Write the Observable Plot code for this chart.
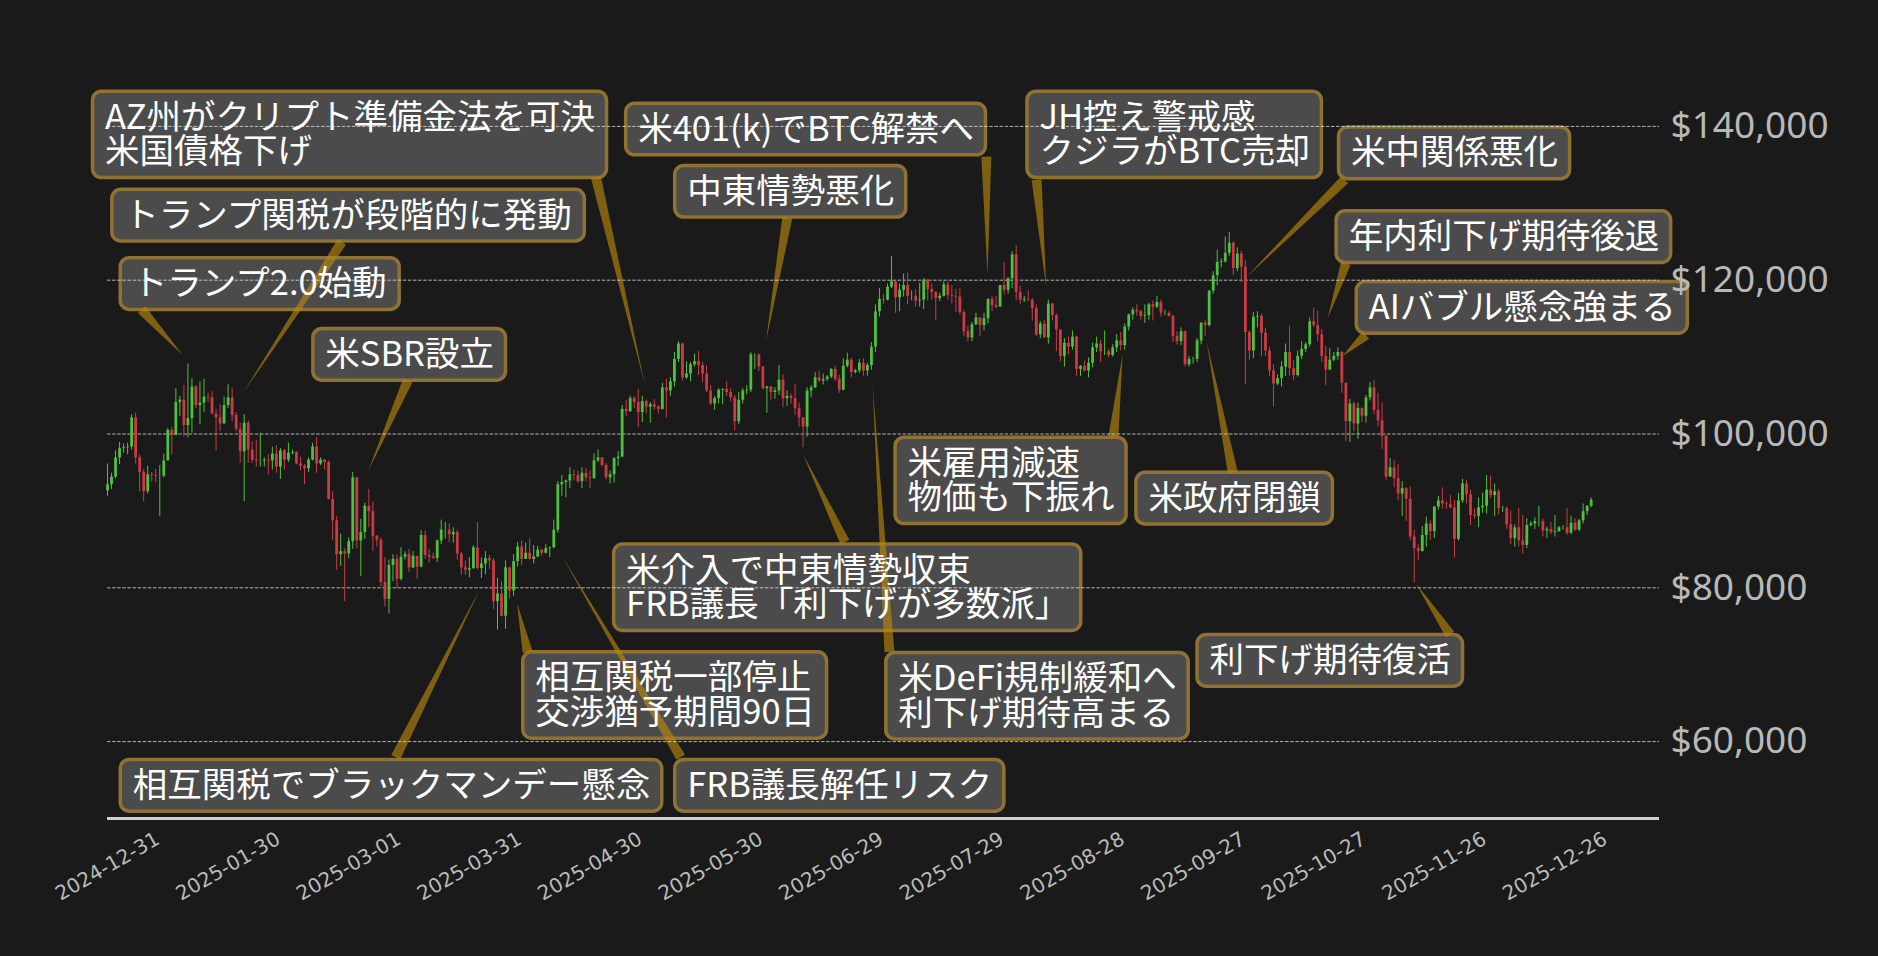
<!DOCTYPE html>
<html><head><meta charset="utf-8">
<script src="https://cdn.jsdelivr.net/npm/d3@7"></script>
<script src="https://cdn.jsdelivr.net/npm/@observablehq/plot@0.6"></script>
<style>
html,body{margin:0;padding:0;background:#1a1a1a;}
#chart{width:1878px;height:956px;}
</style></head><body><div id="chart"></div>
<script>
// ---------------- DATA (BTC/USD daily, values in USD thousands) ----------------
const startDate = "2024-12-31";
const firstOpen = 92.6;
const closeK = [
93.4,
94.4,96.9,98.1,98.2,98.3,102.1,96.9,95.0,92.5,94.7,94.6,94.5,94.5,96.5,100.5,99.8,104.1,104.4,101.1,102.0,106.1,103.7,104.0,104.8,104.7,102.6,102.1,101.3,103.7,104.7,102.4,
100.6,97.7,101.4,97.9,96.6,96.5,96.5,96.6,96.5,97.4,95.7,97.8,96.6,97.5,97.6,96.1,95.8,95.5,96.6,98.3,96.1,96.6,96.3,91.5,88.7,84.3,84.7,84.4,
86.0,94.3,86.1,87.2,90.6,89.9,86.7,86.2,80.7,78.5,82.9,83.7,81.1,84.0,84.3,82.6,84.1,82.7,86.8,84.2,84.0,83.8,86.1,87.5,87.5,86.9,87.2,84.4,82.6,82.3,82.5,
85.2,82.5,83.1,83.8,83.5,78.2,79.2,76.3,82.6,79.6,83.4,85.3,83.7,84.5,83.7,84.0,84.9,84.5,85.1,85.2,87.5,93.4,93.7,93.9,94.7,94.6,93.8,94.9,94.3,94.2,
96.5,96.9,95.9,94.3,94.7,96.8,97.0,103.2,102.9,104.6,104.1,102.8,104.2,103.5,103.8,103.5,103.2,106.0,105.6,106.8,109.7,111.7,107.3,107.8,109.0,109.4,108.9,107.8,105.6,103.9,104.6,
105.7,105.8,105.4,104.7,101.6,104.4,105.6,105.7,110.3,110.3,108.7,105.9,106.1,105.4,105.6,107.0,104.6,104.9,104.6,103.3,102.1,100.9,105.6,106.0,107.3,106.9,107.1,107.4,108.4,107.1,
105.7,108.8,109.6,108.0,108.2,109.2,108.2,108.9,111.3,115.9,117.5,117.4,119.1,119.8,117.7,118.7,119.3,117.9,117.9,117.3,117.4,120.0,118.8,118.4,117.6,117.9,119.4,118.0,117.9,117.8,115.8,
113.3,112.5,114.2,115.1,114.1,115.0,117.5,116.7,116.5,119.3,118.7,120.2,123.3,118.4,117.4,117.5,117.4,116.3,112.9,114.3,112.5,116.9,115.4,113.5,110.1,111.8,111.3,112.6,108.4,108.8,108.2,
109.2,111.2,111.7,110.7,110.7,110.2,111.2,112.1,111.5,113.9,115.5,116.1,115.9,115.3,115.4,116.8,116.5,117.1,115.7,115.7,115.3,112.7,112.0,113.3,109.0,109.7,109.7,112.1,114.4,114.1,
118.6,120.6,122.3,122.4,123.5,124.8,121.5,123.4,121.7,113.2,110.8,115.2,115.3,113.1,110.8,108.2,106.5,107.2,108.7,110.6,108.5,107.6,110.1,111.0,111.6,114.6,114.1,112.9,110.1,108.3,109.6,
110.1,110.6,106.6,101.6,103.9,101.3,103.3,102.3,104.7,106.0,103.1,101.7,99.7,94.4,95.6,94.2,92.2,92.9,91.5,86.6,85.1,84.7,86.8,88.3,87.3,90.5,91.3,90.9,90.8,90.4,
86.3,91.3,93.5,92.1,89.4,89.3,90.4,90.6,92.7,92.0,92.5,90.3,90.3,88.2,86.4,87.8,86.1,85.5,88.1,88.3,88.6,88.6,87.4,87.6,87.2,87.3,87.8,87.8,87.1,88.4,87.5,
88.7,89.9,90.6,91.4
];
const highK = [
96.1,
94.9,97.8,98.9,98.7,98.8,102.5,102.7,97.3,95.4,95.8,95.0,95.4,95.9,97.4,100.7,100.9,105.9,104.9,106.3,109.1,107.2,106.3,106.8,107.1,105.3,105.5,103.2,103.8,104.8,106.4,106.0,
102.8,101.4,102.5,101.7,99.0,99.2,100.1,96.9,97.3,98.3,98.5,98.1,98.0,98.8,97.9,97.7,97.0,96.0,96.9,98.8,99.5,96.9,96.7,96.5,92.5,89.3,87.0,85.1,
86.5,95.0,94.4,88.9,91.0,92.8,91.2,86.8,86.5,83.9,83.6,84.3,84.3,85.2,84.7,85.0,84.7,84.0,87.4,87.4,85.0,84.5,86.2,88.8,88.5,88.3,87.8,87.5,84.6,83.5,83.9,
85.5,88.5,83.9,84.7,84.2,83.8,81.2,80.8,83.5,82.7,84.3,85.9,86.1,85.8,86.4,85.5,85.4,85.0,85.6,85.3,88.8,93.8,94.6,94.0,95.6,95.3,95.2,95.6,95.5,95.2,
97.4,97.9,96.9,96.2,95.2,96.9,97.7,103.7,104.3,104.9,104.9,105.8,104.9,104.4,104.1,104.5,103.7,106.6,107.1,107.3,110.6,112.0,111.8,109.4,109.3,110.4,110.7,109.3,108.9,106.3,104.9,
105.9,105.9,106.8,105.9,105.0,105.4,105.9,106.3,110.6,110.4,110.4,108.8,106.2,106.2,106.0,108.9,107.7,105.6,105.2,106.5,104.0,102.0,106.0,106.3,108.0,108.2,107.8,107.6,108.5,108.8,
107.6,109.8,110.5,109.8,108.4,109.7,109.8,109.2,111.9,116.8,118.9,118.1,119.5,123.1,119.9,119.5,120.8,120.9,118.6,118.8,119.6,120.2,120.1,119.5,118.5,118.3,119.8,119.8,119.3,118.8,118.9,
116.1,114.0,114.5,115.7,115.1,115.7,117.6,117.9,117.9,119.3,122.3,120.3,123.7,124.5,119.2,117.9,118.6,117.6,116.8,114.6,114.8,117.4,117.0,115.6,113.6,112.4,112.6,113.4,112.7,108.9,109.5,
109.9,111.8,112.6,112.2,113.4,111.0,111.6,112.9,113.2,114.3,115.6,116.4,116.8,116.1,116.8,117.0,117.3,117.9,117.4,116.1,115.9,115.4,113.3,113.8,113.4,110.1,110.0,112.4,114.5,114.8,
118.6,121.1,123.9,122.8,125.6,126.2,125.0,124.2,123.8,122.5,113.4,115.8,115.9,115.6,113.7,111.3,109.0,107.7,109.4,111.7,114.0,109.5,110.8,112.0,111.9,115.1,116.4,116.0,113.6,111.4,111.1,
110.6,111.2,110.8,106.6,104.5,104.2,104.0,103.4,105.0,106.7,107.0,105.3,104.0,99.8,96.8,96.6,96.0,93.8,93.0,93.1,87.5,85.6,88.0,89.2,88.7,90.6,91.9,93.0,91.2,92.0,
91.4,92.3,94.1,94.0,92.7,90.3,91.7,92.3,94.6,94.5,93.5,92.8,90.6,90.5,90.0,88.2,90.3,89.4,89.0,88.6,89.1,90.6,88.9,87.9,88.5,89.4,88.0,88.1,90.3,89.3,89.0,
88.9,90.9,90.7,91.7
];
const lowK = [
91.9,
92.8,94.2,96.0,97.5,97.3,97.9,96.1,92.5,91.2,92.2,93.8,93.7,89.3,94.3,96.5,97.3,99.9,102.3,99.6,99.5,100.1,103.3,101.2,102.8,104.1,102.5,97.8,100.3,101.3,103.3,101.6,
100.3,96.2,91.2,96.2,96.2,95.7,95.7,95.7,94.7,95.3,94.9,94.1,95.3,96.3,97.3,96.0,95.2,93.4,95.0,96.5,94.9,95.9,95.3,91.4,86.1,82.3,82.8,78.2,
83.8,85.0,85.1,81.5,86.3,87.8,84.7,85.3,80.1,77.5,76.6,80.8,79.9,80.9,83.6,82.0,82.5,81.1,82.6,83.7,83.2,83.7,83.3,85.6,86.3,85.9,85.8,83.6,81.6,81.6,81.3,
82.4,82.3,81.2,81.7,82.4,77.2,74.5,76.2,74.6,78.5,78.9,82.7,82.9,83.7,83.6,83.1,83.9,84.1,84.4,83.9,85.1,87.1,91.9,91.7,92.9,93.9,93.6,92.9,93.8,92.9,
94.1,96.3,95.7,94.0,93.5,93.6,95.8,96.9,102.3,102.8,103.3,100.8,101.5,102.6,101.4,103.1,102.6,103.1,102.1,104.9,106.1,109.3,106.9,107.1,106.8,108.7,107.6,106.7,105.4,103.7,103.1,
103.9,103.8,104.9,104.2,100.4,101.2,103.9,105.1,105.4,108.4,108.1,105.7,102.7,104.4,104.5,105.0,103.4,103.6,103.9,102.4,100.9,98.2,99.6,104.7,105.9,106.7,106.4,106.8,107.2,106.8,
105.3,105.6,108.6,107.3,107.8,107.9,107.5,107.5,108.3,110.6,115.2,116.9,117.3,118.9,115.7,115.9,117.8,116.8,117.3,116.5,116.5,116.2,117.3,117.4,114.7,117.2,117.8,117.4,116.9,115.8,115.5,
112.7,112.0,112.0,114.1,112.7,113.4,114.3,115.9,116.3,116.5,118.1,118.2,118.9,117.3,116.8,117.1,117.2,114.7,112.7,112.4,112.4,111.7,114.7,110.7,109.4,108.7,110.3,110.9,107.5,107.5,108.1,
107.3,108.6,110.6,109.3,110.2,109.9,110.0,110.6,110.8,110.9,113.4,114.8,115.3,114.8,114.4,114.8,114.7,116.3,115.2,115.4,115.2,111.9,111.6,111.5,108.7,108.7,109.1,109.3,111.6,112.7,
113.9,118.2,119.3,121.6,122.2,123.1,120.6,121.1,119.7,106.4,109.6,109.8,113.8,110.0,110.1,107.5,103.5,106.3,106.1,107.5,107.5,106.9,107.4,109.7,110.6,111.3,113.9,112.0,109.3,106.3,108.7,
109.4,109.6,105.3,99.0,98.9,100.3,99.3,101.5,101.4,104.3,102.5,100.9,98.0,94.0,94.6,93.0,91.3,89.3,88.6,86.1,80.6,83.5,84.7,85.3,86.2,86.4,90.1,90.2,90.2,90.3,
83.9,86.1,91.0,90.9,88.1,88.9,87.8,89.7,89.6,91.6,89.3,89.5,89.8,87.6,85.6,85.3,85.3,84.4,85.1,87.9,87.6,87.9,86.6,86.4,86.9,86.6,87.2,87.5,86.8,86.9,87.3,
87.3,88.3,89.4,90.4
];
const xTickLabels = ["2024-12-31","2025-01-30","2025-03-01","2025-03-31","2025-04-30","2025-05-30","2025-06-29","2025-07-29","2025-08-28","2025-09-27","2025-10-27","2025-11-26","2025-12-26"];
const yTicks = [60000, 80000, 100000, 120000, 140000];

// annotations (positions in data units: days since startDate, price in USD thousands)
const noteText = [
"AZ州がクリプト準備金法を可決\n米国債格下げ",
"トランプ関税が段階的に発動",
"トランプ2.0始動",
"米SBR設立",
"米401(k)でBTC解禁へ",
"中東情勢悪化",
"JH控え警戒感\nクジラがBTC売却",
"米中関係悪化",
"年内利下げ期待後退",
"AIバブル懸念強まる",
"米雇用減速\n物価も下振れ",
"米政府閉鎖",
"米介入で中東情勢収束\nFRB議長「利下げが多数派」",
"米DeFi規制緩和へ\n利下げ期待高まる",
"利下げ期待復活",
"相互関税一部停止\n交渉猶予期間90日",
"相互関税でブラックマンデー懸念",
"FRB議長解任リスク"];
const noteBoxDay   = [-3.6, 1.2, 3.3, 51.2, 129.0, 141.2, 228.8, 306.3, 305.7, 310.7, 196.0, 255.9, 126.0, 193.7, 271.1, 103.4, 3.3, 141.2];
const noteBoxPrice = [138.9, 128.4, 119.5, 110.3, 139.6, 131.5, 138.9, 136.5, 125.6, 116.4, 93.9, 91.6, 80.0, 65.9, 70.5, 66.0, 54.25, 54.25];
const noteBaseDay  = [121.6, 58.4, 8.6, 74.8, 218.7, 169.2, 231.2, 307.8, 308.1, 313.1, 250.3, 280.0, 183.5, 194.6, 334.0, 104.6, 71.8, 142.7];
const noteBasePrice= [133.3, 124.9, 116.1, 106.9, 136.0, 128.05, 133.0, 133.0, 122.1, 112.8, 99.6, 94.9, 85.9, 71.6, 73.9, 71.6, 57.9, 57.9];
const noteTipDay   = [133.8, 34.0, 18.8, 65.0, 219.0, 163.9, 233.6, 283.3, 303.6, 307.2, 252.6, 273.5, 173.1, 190.4, 325.6, 102.0, 92.7, 113.2];
const noteTipPrice = [106.3, 105.4, 110.2, 95.2, 120.6, 112.0, 119.0, 120.3, 115.0, 110.0, 110.3, 111.9, 97.3, 106.3, 80.45, 77.9, 79.7, 84.0];

// ---------------- BUILD ----------------
const DAY = 864e5;
const t0 = new Date(startDate + "T00:00:00Z");
const dayToDate = d => new Date(+t0 + d * DAY);

const candles = closeK.map((c, i) => {
  const o = (i ? closeK[i - 1] : firstOpen) * 1000, cl = c * 1000;
  return {date: dayToDate(i), open: o, close: cl,
          high: Math.max(highK[i] * 1000, o, cl), low: Math.min(lowK[i] * 1000, o, cl)};
});
const upC = candles.filter(d => d.close >= d.open);
const downC = candles.filter(d => d.close < d.open);

const notes = noteText.map((t, i) => ({
  text: t,
  boxDate: dayToDate(noteBoxDay[i]), boxPrice: noteBoxPrice[i] * 1000,
  baseDate: dayToDate(noteBaseDay[i]), basePrice: noteBasePrice[i] * 1000,
  tipDate: dayToDate(noteTipDay[i]), tipPrice: noteTipPrice[i] * 1000
}));

const GREEN = "#4fc040", RED = "#cc3b45";
const FS = 34.5, PADX = 12, PADY = 8.5, LH = 34.7, WEDGE = 10;
const FONT = '"Noto Sans CJK JP", "Noto Sans CJK SC", sans-serif';
const ctx = document.createElement("canvas").getContext("2d");
ctx.font = `${FS}px "Noto Sans CJK JP"`;

function boxesMark(index, scales) {
  const g = d3.create("svg:g");
  for (const n of notes) {
    const lines = n.text.split("\n");
    const w = d3.max(lines, l => ctx.measureText(l).width) + 2 * PADX;
    const h = lines.length * LH + 2 * PADY;
    const x = scales.x(n.boxDate), yc = scales.y(n.boxPrice);
    g.append("rect").attr("x", x).attr("y", yc - h / 2).attr("width", w).attr("height", h)
      .attr("rx", 9).attr("ry", 9).attr("fill", "#4b4b4b").attr("stroke", "#8f7232").attr("stroke-width", 3.5);
  }
  return g.node();
}
function wedgesMark(index, scales) {
  const g = d3.create("svg:g").attr("fill", "#b8860b").attr("fill-opacity", 0.64);
  for (const n of notes) {
    const bx = scales.x(n.baseDate), by = scales.y(n.basePrice);
    const tx = scales.x(n.tipDate), ty = scales.y(n.tipPrice);
    const dx = tx - bx, dy = ty - by, L = Math.hypot(dx, dy) || 1;
    const nx = -dy / L * WEDGE / 2, ny = dx / L * WEDGE / 2;
    g.append("path").attr("d", `M${bx + nx},${by + ny}L${tx},${ty}L${bx - nx},${by - ny}Z`);
  }
  return g.node();
}

const chart = Plot.plot({
  width: 1878, height: 956,
  marginLeft: 107, marginRight: 219, marginTop: 49, marginBottom: 138,
  style: {background: "#1a1a1a", color: "#bbbbbb", fontFamily: FONT, fontSize: "34px"},
  x: {type: "utc", domain: [t0, dayToDate(386)], axis: null},
  y: {domain: [50000, 150000], axis: null},
  marks: [
    boxesMark,
    wedgesMark,
    Plot.ruleY(yTicks, {stroke: "#e6e6e6", strokeOpacity: 0.75, strokeWidth: 1, strokeDasharray: "3.5,1.6"}),
    Plot.ruleX(upC, {x: "date", y1: "low", y2: "high", stroke: GREEN, strokeWidth: 1}),
    Plot.ruleX(downC, {x: "date", y1: "low", y2: "high", stroke: RED, strokeWidth: 1}),
    Plot.ruleX(upC, {x: "date", y1: "open", y2: "close", stroke: GREEN, strokeWidth: 2.8}),
    Plot.ruleX(downC, {x: "date", y1: "open", y2: "close", stroke: RED, strokeWidth: 2.8}),
    Plot.ruleY([50000], {stroke: "#cfcfcf", strokeWidth: 3}),
    Plot.text(notes, {x: "boxDate", y: "boxPrice", text: "text", dx: PADX, textAnchor: "start",
      lineAnchor: "middle", lineHeight: LH / FS, fill: "#ffffff", fontSize: FS, fontFamily: FONT}),
    Plot.text(yTicks, {y: d => d, frameAnchor: "right", dx: 11, textAnchor: "start", lineAnchor: "middle",
      text: d3.format("$,.0f"), fill: "#b8b8b8", fontSize: 37, fontFamily: '"Noto Sans", sans-serif'}),
    Plot.text(xTickLabels, {x: d => new Date(d + "T00:00:00Z"), frameAnchor: "bottom", text: d => d,
      dy: 48, rotate: -30, textAnchor: "middle", lineAnchor: "middle",
      fill: "#bbbbbb", fontSize: 20, fontFamily: "DejaVu Sans"})
  ]
});
document.getElementById("chart").appendChild(chart);
</script>
</body></html>
